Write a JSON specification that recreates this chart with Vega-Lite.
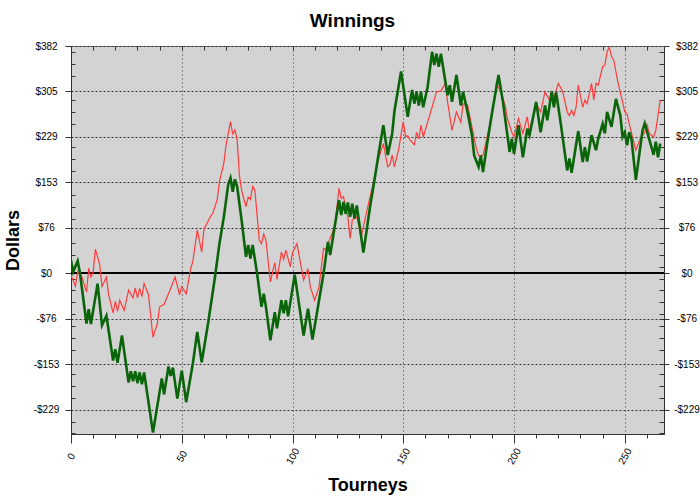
{
  "$schema": "https://vega.github.io/schema/vega-lite/v6.json",
  "width": 593,
  "height": 388,
  "autosize": {"type": "none"},
  "padding": {"left": 71, "top": 46, "right": 36, "bottom": 65},
  "background": "white",
  "title": {"text": "Winnings", "font": "Liberation Sans", "fontSize": 19, "fontWeight": "bold", "color": "#000", "anchor": "middle", "frame": "group", "dx": -15, "offset": 10},
  "config": {
    "view": {"fill": "#d3d3d3", "stroke": "#777", "strokeWidth": 1},
    "axis": {"domainColor": "#333", "tickColor": "#333", "labelFont": "Liberation Sans", "labelFontSize": 10, "labelColor": "#000", "titleFont": "Liberation Sans", "titleFontSize": 18, "titleFontWeight": "bold", "titleColor": "#000", "labelFlush": false, "labelOverlap": false}
  },
  "datasets": {
    "red": [
      {"t":0,"v":-3},{"t":2,"v":-21},{"t":3,"v":3},{"t":5,"v":-7},{"t":7,"v":-31},{"t":8,"v":9},{"t":9,"v":-6},{"t":10,"v":2},{"t":11,"v":41},{"t":13,"v":14},{"t":14,"v":-22},{"t":16,"v":-6},{"t":17,"v":-36},{"t":19,"v":-66},{"t":20,"v":-47},{"t":21,"v":-63},{"t":22,"v":-45},{"t":24,"v":-62},{"t":26,"v":-28},{"t":28,"v":-41},{"t":29,"v":-24},{"t":30,"v":-41},{"t":31,"v":-25},{"t":32,"v":-39},{"t":33,"v":-17},{"t":35,"v":-36},{"t":37,"v":-107},{"t":39,"v":-84},{"t":40,"v":-56},{"t":42,"v":-52},{"t":44,"v":-34},{"t":47,"v":-6},{"t":49,"v":-36},{"t":50,"v":-22},{"t":52,"v":-34},{"t":54,"v":8},{"t":55,"v":20},{"t":57,"v":73},{"t":59,"v":36},{"t":60,"v":74},{"t":63,"v":96},{"t":64,"v":101},{"t":66,"v":124},{"t":67,"v":154},{"t":69,"v":185},{"t":70,"v":216},{"t":72,"v":255},{"t":73,"v":234},{"t":74,"v":241},{"t":75,"v":225},{"t":76,"v":165},{"t":77,"v":140},{"t":79,"v":112},{"t":80,"v":128},{"t":81,"v":124},{"t":82,"v":146},{"t":83,"v":140},{"t":85,"v":56},{"t":86,"v":50},{"t":87,"v":66},{"t":88,"v":56},{"t":90,"v":-14},{"t":92,"v":18},{"t":93,"v":-10},{"t":95,"v":36},{"t":96,"v":24},{"t":97,"v":39},{"t":99,"v":11},{"t":100,"v":35},{"t":102,"v":50},{"t":105,"v":-11},{"t":107,"v":8},{"t":108,"v":-22},{"t":110,"v":-45},{"t":112,"v":-22},{"t":114,"v":42},{"t":115,"v":40},{"t":119,"v":78},{"t":121,"v":143},{"t":122,"v":126},{"t":123,"v":129},{"t":125,"v":95},{"t":126,"v":59},{"t":127,"v":90},{"t":129,"v":95},{"t":131,"v":62},{"t":134,"v":112},{"t":137,"v":160},{"t":139,"v":195},{"t":141,"v":218},{"t":143,"v":179},{"t":144,"v":183},{"t":145,"v":199},{"t":146,"v":179},{"t":148,"v":210},{"t":150,"v":255},{"t":151,"v":230},{"t":152,"v":231},{"t":153,"v":224},{"t":155,"v":216},{"t":156,"v":237},{"t":157,"v":226},{"t":158,"v":249},{"t":159,"v":229},{"t":161,"v":254},{"t":163,"v":279},{"t":165,"v":305},{"t":167,"v":306},{"t":169,"v":319},{"t":170,"v":288},{"t":172,"v":240},{"t":174,"v":271},{"t":176,"v":254},{"t":177,"v":285},{"t":179,"v":283},{"t":181,"v":246},{"t":183,"v":209},{"t":184,"v":198},{"t":186,"v":198},{"t":187,"v":215},{"t":189,"v":249},{"t":191,"v":288},{"t":192,"v":319},{"t":194,"v":305},{"t":196,"v":282},{"t":197,"v":260},{"t":199,"v":237},{"t":200,"v":229},{"t":202,"v":260},{"t":204,"v":235},{"t":206,"v":263},{"t":207,"v":237},{"t":210,"v":285},{"t":212,"v":271},{"t":214,"v":305},{"t":216,"v":291},{"t":217,"v":305},{"t":218,"v":296},{"t":220,"v":319},{"t":222,"v":305},{"t":224,"v":271},{"t":225,"v":265},{"t":226,"v":274},{"t":227,"v":265},{"t":228,"v":279},{"t":229,"v":316},{"t":231,"v":279},{"t":232,"v":291},{"t":233,"v":285},{"t":235,"v":319},{"t":236,"v":291},{"t":237,"v":319},{"t":238,"v":316},{"t":240,"v":347},{"t":241,"v":350},{"t":242,"v":372},{"t":243,"v":380},{"t":244,"v":364},{"t":245,"v":358},{"t":247,"v":319},{"t":249,"v":288},{"t":250,"v":271},{"t":251,"v":268},{"t":252,"v":251},{"t":255,"v":207},{"t":257,"v":226},{"t":259,"v":237},{"t":260,"v":251},{"t":261,"v":235},{"t":263,"v":229},{"t":264,"v":240},{"t":266,"v":291}
    ],
    "green": [
      {"t":0,"v":22},{"t":1,"v":3},{"t":3,"v":21},{"t":4,"v":2},{"t":7,"v":-84},{"t":8,"v":-60},{"t":9,"v":-85},{"t":12,"v":-17},{"t":14,"v":-87},{"t":16,"v":-71},{"t":19,"v":-146},{"t":20,"v":-127},{"t":21,"v":-150},{"t":23,"v":-104},{"t":26,"v":-183},{"t":27,"v":-164},{"t":28,"v":-181},{"t":29,"v":-164},{"t":30,"v":-184},{"t":31,"v":-166},{"t":32,"v":-186},{"t":33,"v":-166},{"t":37,"v":-267},{"t":41,"v":-176},{"t":42,"v":-203},{"t":44,"v":-156},{"t":45,"v":-172},{"t":46,"v":-158},{"t":48,"v":-210},{"t":50,"v":-163},{"t":52,"v":-216},{"t":55,"v":-151},{"t":57,"v":-98},{"t":59,"v":-149},{"t":62,"v":-81},{"t":65,"v":-6},{"t":67,"v":50},{"t":69,"v":95},{"t":71,"v":150},{"t":72,"v":160},{"t":73,"v":137},{"t":74,"v":158},{"t":75,"v":146},{"t":77,"v":90},{"t":79,"v":28},{"t":80,"v":48},{"t":81,"v":25},{"t":82,"v":48},{"t":84,"v":0},{"t":86,"v":-56},{"t":87,"v":-34},{"t":88,"v":-56},{"t":90,"v":-112},{"t":92,"v":-65},{"t":93,"v":-92},{"t":95,"v":-45},{"t":96,"v":-67},{"t":97,"v":-45},{"t":98,"v":-72},{"t":101,"v":-2},{"t":105,"v":-104},{"t":107,"v":-59},{"t":109,"v":-111},{"t":114,"v":0},{"t":116,"v":53},{"t":117,"v":31},{"t":119,"v":78},{"t":121,"v":123},{"t":122,"v":98},{"t":123,"v":120},{"t":124,"v":100},{"t":125,"v":119},{"t":126,"v":95},{"t":127,"v":117},{"t":128,"v":92},{"t":129,"v":114},{"t":132,"v":35},{"t":135,"v":112},{"t":137,"v":157},{"t":139,"v":204},{"t":141,"v":249},{"t":143,"v":199},{"t":145,"v":235},{"t":146,"v":272},{"t":149,"v":339},{"t":152,"v":263},{"t":154,"v":308},{"t":155,"v":285},{"t":156,"v":305},{"t":157,"v":282},{"t":158,"v":305},{"t":159,"v":279},{"t":161,"v":313},{"t":163,"v":372},{"t":164,"v":350},{"t":165,"v":369},{"t":166,"v":347},{"t":167,"v":369},{"t":170,"v":299},{"t":171,"v":316},{"t":172,"v":288},{"t":174,"v":333},{"t":176,"v":282},{"t":177,"v":305},{"t":179,"v":271},{"t":181,"v":232},{"t":182,"v":198},{"t":184,"v":179},{"t":185,"v":198},{"t":186,"v":170},{"t":188,"v":221},{"t":190,"v":268},{"t":193,"v":333},{"t":195,"v":288},{"t":198,"v":204},{"t":199,"v":226},{"t":200,"v":201},{"t":202,"v":249},{"t":204,"v":195},{"t":206,"v":243},{"t":207,"v":232},{"t":210,"v":288},{"t":212,"v":237},{"t":214,"v":282},{"t":215,"v":257},{"t":217,"v":305},{"t":218,"v":279},{"t":219,"v":304},{"t":221,"v":254},{"t":224,"v":173},{"t":225,"v":193},{"t":226,"v":169},{"t":229,"v":239},{"t":231,"v":187},{"t":232,"v":212},{"t":233,"v":188},{"t":235,"v":232},{"t":237,"v":207},{"t":238,"v":226},{"t":240,"v":251},{"t":241,"v":235},{"t":242,"v":271},{"t":244,"v":246},{"t":246,"v":293},{"t":248,"v":265},{"t":249,"v":229},{"t":250,"v":237},{"t":251,"v":215},{"t":252,"v":237},{"t":253,"v":226},{"t":255,"v":157},{"t":258,"v":240},{"t":259,"v":252},{"t":261,"v":226},{"t":263,"v":199},{"t":264,"v":221},{"t":265,"v":195},{"t":266,"v":218}
    ]
  },
  "resolve": {"axis": {"x": "independent", "y": "independent"}},
  "layer": [
    {
      "data": {"name": "red"},
      "mark": {"type": "rule", "color": "#000", "strokeWidth": 1},
      "encoding": {
        "y": {
          "datum": 0, "type": "quantitative",
          "scale": {"domain": [-269.4, 381.75], "nice": false, "zero": false},
          "axis": {
            "orient": "left",
            "values": [-229.05, -152.7, -76.35, 0, 76.35, 152.7, 229.05, 305.4, 381.75],
            "labelExpr": "(datum.value < 0 ? '-$' : '$') + format(abs(datum.value), '.0f')",
            "tickSize": 6, "labelAlign": "center", "labelBaseline": "middle", "labelPadding": 19,
            "grid": true, "gridDash": [2, 2], "gridColor": "#333", "gridWidth": 1,
            "domain": true,
            "title": "Dollars", "titleX": -53, "titleY": 194, "titleAngle": -90, "titleBaseline": "alphabetic", "titleAlign": "center"
          }
        }
      }
    },
    {
      "data": {"name": "red"},
      "mark": {"type": "line", "color": "#ff3c3c", "strokeWidth": 1.2, "clip": true},
      "encoding": {
        "x": {
          "field": "t", "type": "quantitative",
          "scale": {"domain": [0, 267.7], "nice": false, "zero": false},
          "axis": {
            "orient": "bottom", "values": [0, 50, 100, 150, 200, 250], "format": "d",
            "labelAngle": -60, "labelAlign": "center", "labelBaseline": "middle", "tickSize": 9, "labelPadding": 13,
            "grid": true, "gridDash": [1, 3], "gridColor": "#333", "domain": true,
            "title": "Tourneys", "titleX": 296.5, "titleY": 56, "titleBaseline": "alphabetic", "titleAlign": "center"
          }
        },
        "y": {
          "field": "v", "type": "quantitative",
          "scale": {"domain": [-269.4, 381.75], "nice": false, "zero": false},
          "axis": {
            "orient": "left", "offset": -4, "tickSize": 4, "labels": false, "domain": false, "grid": false, "title": null,
            "values": [-268.5, -248.5, -208.5, -188.5, -168.5, -128.5, -108.5, -88.5, -68.5, -48.5, -28.5, -8.5, 11.5, 31.5, 51.5, 91.5, 111.5, 131.5, 171.5, 191.5, 211.5, 251.5, 271.5, 291.5, 331.5, 351.5, 371.5]
          }
        }
      }
    },
    {
      "data": {"name": "green"},
      "mark": {"type": "line", "color": "#0a640a", "strokeWidth": 2.6, "clip": true},
      "encoding": {
        "x": {
          "field": "t", "type": "quantitative",
          "scale": {"domain": [0, 267.7], "nice": false, "zero": false},
          "axis": {
            "orient": "bottom", "tickSize": 4, "labels": false, "domain": false, "grid": false, "title": null,
            "values": [10, 20, 30, 40, 60, 70, 80, 90, 110, 120, 130, 140, 160, 170, 180, 190, 210, 220, 230, 240, 260]
          }
        },
        "y": {
          "field": "v", "type": "quantitative",
          "scale": {"domain": [-269.4, 381.75], "nice": false, "zero": false},
          "axis": {
            "orient": "right",
            "values": [-229.05, -152.7, -76.35, 0, 76.35, 152.7, 229.05, 305.4, 381.75],
            "labelExpr": "(datum.value < 0 ? '-$' : '$') + format(abs(datum.value), '.0f')",
            "tickSize": 5, "labelAlign": "center", "labelBaseline": "middle", "labelPadding": 17.5,
            "grid": false, "domain": true, "title": null
          }
        }
      }
    },
    {
      "data": {"name": "green"},
      "mark": {"type": "point", "opacity": 0},
      "encoding": {
        "x": {
          "datum": 0, "type": "quantitative",
          "scale": {"domain": [0, 267.7], "nice": false, "zero": false},
          "axis": {
            "orient": "top", "offset": -4, "tickSize": 4, "labels": false, "domain": false, "grid": false, "title": null,
            "values": [10, 20, 30, 40, 50, 60, 70, 80, 90, 100, 110, 120, 130, 140, 150, 160, 170, 180, 190, 200, 210, 220, 230, 240, 250, 260]
          }
        },
        "y": {
          "datum": 0, "type": "quantitative",
          "scale": {"domain": [-269.4, 381.75], "nice": false, "zero": false},
          "axis": {
            "orient": "right", "offset": -5, "tickSize": 5, "labels": false, "domain": false, "grid": false, "title": null,
            "values": [-268.5, -248.5, -229.05, -208.5, -188.5, -168.5, -152.7, -128.5, -108.5, -88.5, -76.35, -68.5, -48.5, -28.5, -8.5, 0, 11.5, 31.5, 51.5, 76.35, 91.5, 111.5, 131.5, 152.7, 171.5, 191.5, 211.5, 229.05, 251.5, 271.5, 291.5, 305.4, 331.5, 351.5, 371.5]
          }
        }
      }
    }
  ]
}
